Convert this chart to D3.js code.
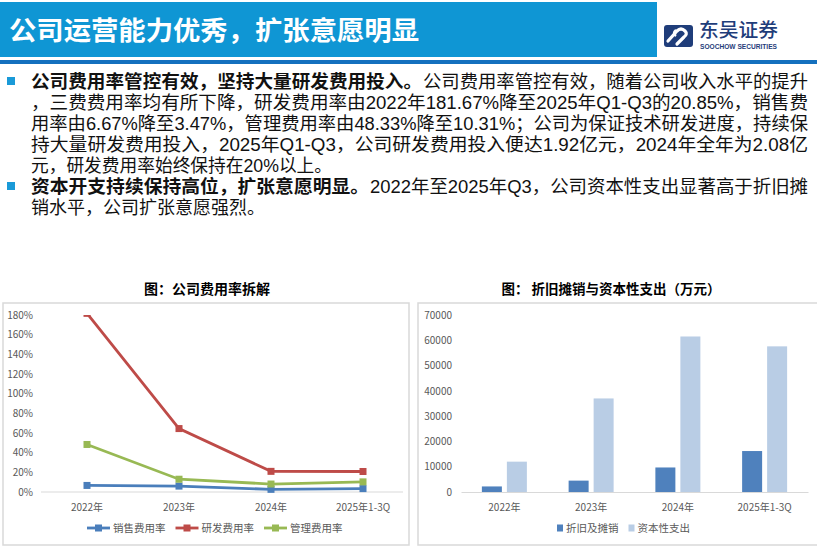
<!DOCTYPE html>
<html>
<head>
<meta charset="utf-8">
<script src="https://d3js.org/d3.v7.min.js"></script>
<style>
  body { margin: 0; background: #fff; }
  svg { display: block; font-family: "Noto Sans CJK SC", "Noto Sans", sans-serif; }
</style>
</head>
<body>
<svg id="main_canvas" width="817" height="552"></svg>
<script>
    const CANVAS_WIDTH = 817;
    const CANVAS_HEIGHT = 552;

    // ---- data ----
    const categories = ["2022年", "2023年", "2024年", "2025年1-3Q"];

    const rateSeries = ["销售费用率", "研发费用率", "管理费用率"];
    const salesRate = [0.0667, 0.060, 0.027, 0.0347];
    const rdRate = [1.8167, 0.645, 0.21, 0.2085];
    const adminRate = [0.4833, 0.13, 0.081, 0.1031];
    const rateTicks = [0, 0.2, 0.4, 0.6, 0.8, 1.0, 1.2, 1.4, 1.6, 1.8];

    const capexSeries = ["折旧及摊销", "资本性支出"];
    const depreciation = [2200, 4500, 9700, 16200];
    const capex = [12000, 37000, 61500, 57600];
    const capexTicks = [0, 10000, 20000, 30000, 40000, 50000, 60000, 70000];

    const pageTitle = "公司运营能力优秀，扩张意愿明显";
    const leftTitle = "图：公司费用率拆解";
    const rightTitle = "图： 折旧摊销与资本性支出（万元）";

    const svg = d3.select("#main_canvas");

    // ---- header ----
    svg.append("rect").attr("x", 0).attr("y", 2).attr("width", 657).attr("height", 55).attr("fill", "#0f96d4");
    svg.append("rect").attr("x", 0).attr("y", 60).attr("width", CANVAS_WIDTH).attr("height", 4).attr("fill", "#1470be");
    svg.append("text")
        .attr("x", 9).attr("y", 40)
        .attr("fill", "#fff")
        .attr("font-size", 26.5).attr("font-weight", "bold")
        .attr("textLength", 410).attr("lengthAdjust", "spacingAndGlyphs")
        .text(pageTitle);

    // logo
    const logo = svg.append("g");
    logo.append("rect").attr("x", 664).attr("y", 25).attr("width", 29).attr("height", 22).attr("rx", 3).attr("fill", "#1f3d7a");
    logo.append("path")
        .attr("d", "M668,41 L677,31 Q681,27 685,31 Q688,34 684,37 L677,44")
        .attr("fill", "none").attr("stroke", "#fff").attr("stroke-width", 3.2).attr("stroke-linecap", "round");
    logo.append("path")
        .attr("d", "M676,36 Q672,33 676,30")
        .attr("fill", "none").attr("stroke", "#fff").attr("stroke-width", 2.4);
    logo.append("text").attr("x", 699).attr("y", 37).attr("fill", "#1f3d7a")
        .attr("font-size", 19).attr("font-weight", 500)
        .attr("textLength", 79).attr("lengthAdjust", "spacingAndGlyphs")
        .text("东吴证券");
    logo.append("text").attr("x", 700).attr("y", 48.5).attr("fill", "#1f3d7a")
        .attr("font-family", "\"Liberation Sans\", sans-serif")
        .attr("font-size", 6.3).attr("font-weight", "bold")
        .attr("textLength", 77).attr("lengthAdjust", "spacingAndGlyphs")
        .text("SOOCHOW SECURITIES");

    // ---- body text ----
    const bodyLines = [
        { bold: "公司费用率管控有效，坚持大量研发费用投入。", text: "公司费用率管控有效，随着公司收入水平的提升", split: 423, len: 385 },
        { text: "，三费费用率均有所下降，研发费用率由2022年181.67%降至2025年Q1-Q3的20.85%，销售费", len: 777 },
        { text: "用率由6.67%降至3.47%，管理费用率由48.33%降至10.31%；公司为保证技术研发进度，持续保", len: 777 },
        { text: "持大量研发费用投入，2025年Q1-Q3，公司研发费用投入便达1.92亿元，2024年全年为2.08亿", len: 777 },
        { text: "元，研发费用率始终保持在20%以上。", len: 301 },
        { bold: "资本开支持续保持高位，扩张意愿明显。", text: "2022年至2025年Q3，公司资本性支出显著高于折旧摊", split: 370, len: 438 },
        { text: "销水平，公司扩张意愿强烈。" }
    ];
    const TEXT_X = 31;
    const body = svg.append("g")
        .attr("font-family", "\"Liberation Sans\", \"Noto Sans CJK SC\", sans-serif")
        .attr("font-size", 18).attr("fill", "#111");
    bodyLines.forEach((ln, i) => {
        const yb = 88 + i * 21;
        if (ln.bold) {
            body.append("rect").attr("x", 7).attr("y", yb - 11).attr("width", 8).attr("height", 8).attr("fill", "#1a9ad8");
            body.append("text").attr("x", TEXT_X).attr("y", yb).attr("font-weight", "bold")
                .attr("textLength", ln.split - 1 - TEXT_X).attr("lengthAdjust", "spacingAndGlyphs")
                .text(ln.bold);
        }
        const t = body.append("text").attr("x", ln.bold ? ln.split : TEXT_X).attr("y", yb).text(ln.text);
        if (ln.len) t.attr("textLength", ln.len).attr("lengthAdjust", "spacingAndGlyphs");
    });

    // ---- panels ----
    const panelStroke = "#d9d9d9";
    svg.append("rect").attr("x", 3).attr("y", 303).attr("width", 406).attr("height", 242)
        .attr("fill", "none").attr("stroke", panelStroke).attr("stroke-width", 1.5);
    svg.append("rect").attr("x", 418).attr("y", 303).attr("width", 402).attr("height", 242)
        .attr("fill", "none").attr("stroke", panelStroke).attr("stroke-width", 1.5);

    svg.append("text").attr("x", 207).attr("y", 294).attr("text-anchor", "middle")
        .attr("font-size", 14).attr("font-weight", "bold").text(leftTitle);
    svg.append("text").attr("x", 611).attr("y", 294).attr("text-anchor", "middle")
        .attr("font-size", 13.5).attr("font-weight", "bold").text(rightTitle);

    const styleAxis = (g, size) => {
        g.selectAll("text").attr("fill", "#595959").attr("font-size", size)
            .attr("font-family", "\"Noto Sans CJK SC\", sans-serif");
    };

    // ---- left chart: expense ratios ----
    const lc = { left: 41, right: 409, top: 315, bottom: 492 };
    const x1 = d3.scaleBand().domain(categories).range([lc.left, lc.right]);
    const y1 = d3.scaleLinear().domain([0, 1.8]).range([lc.bottom, lc.top]);
    const color1 = d3.scaleOrdinal(rateSeries, ["#4a7ebb", "#be4b48", "#98b954"]);
    const rateData = [salesRate, rdRate, adminRate].map((vals, k) => ({
        name: rateSeries[k],
        values: vals.map((v, i) => ({ cat: categories[i], v }))
    }));

    svg.append("g")
        .attr("transform", `translate(${lc.left},0)`)
        .call(d3.axisLeft(y1).tickValues(rateTicks).tickSize(0).tickPadding(8)
            .tickFormat(d => Math.round(d * 100) + "%"))
        .call(g => g.select(".domain").remove())
        .call(g => styleAxis(g, 10));

    svg.append("g")
        .attr("transform", `translate(0,${lc.bottom})`)
        .call(d3.axisBottom(x1).tickSize(0).tickPadding(12))
        .call(g => g.select(".domain").attr("stroke", "#d9d9d9").attr("stroke-width", 1.2)
            .attr("d", `M${lc.left},0H${lc.right - 6}`))
        .call(g => styleAxis(g, 10));

    svg.append("clipPath").attr("id", "plot1")
        .append("rect").attr("x", 0).attr("y", 315).attr("width", 410).attr("height", 200);

    const cx1 = d => x1(d.cat) + x1.bandwidth() / 2;
    const line1 = d3.line().x(cx1).y(d => y1(d.v));
    const series1 = svg.append("g").attr("clip-path", "url(#plot1)")
        .selectAll("g").data(rateData).join("g");
    series1.append("path")
        .attr("d", d => line1(d.values))
        .attr("fill", "none")
        .attr("stroke", d => color1(d.name))
        .attr("stroke-width", 2.8);
    series1.selectAll("rect")
        .data(d => d.values.map(p => ({ ...p, name: d.name })))
        .join("rect")
        .attr("x", d => cx1(d) - 3.5)
        .attr("y", d => y1(d.v) - 3.5)
        .attr("width", 7).attr("height", 7)
        .attr("fill", d => color1(d.name));

    // legend
    let lx = 87;
    const legend1 = svg.append("g").attr("font-size", 10.5).attr("fill", "#595959");
    rateSeries.forEach(name => {
        legend1.append("line").attr("x1", lx).attr("x2", lx + 23).attr("y1", 528).attr("y2", 528)
            .attr("stroke", color1(name)).attr("stroke-width", 2.8);
        legend1.append("rect").attr("x", lx + 8).attr("y", 524.5).attr("width", 7).attr("height", 7)
            .attr("fill", color1(name));
        const t = legend1.append("text").attr("x", lx + 26).attr("y", 532).text(name);
        lx += 26 + t.node().getComputedTextLength() + 10;
    });

    // ---- right chart: depreciation vs capex ----
    const rc = { left: 461, right: 808, top: 315, bottom: 492 };
    const x2 = d3.scaleBand().domain(categories).range([rc.left, rc.right]);
    const xs = d3.scaleBand().domain(capexSeries).range([0, 45]).paddingInner(0.2);
    const y2 = d3.scaleLinear().domain([0, 70000]).range([rc.bottom, rc.top]);
    const color2 = d3.scaleOrdinal(capexSeries, ["#4f81bd", "#b9cde5"]);

    svg.append("g")
        .attr("transform", `translate(${rc.left},0)`)
        .call(d3.axisLeft(y2).tickValues(capexTicks).tickSize(0).tickPadding(9).tickFormat(d3.format("d")))
        .call(g => g.select(".domain").remove())
        .call(g => styleAxis(g, 10));

    const barData = [];
    categories.forEach((c, i) => {
        barData.push({ cat: c, name: capexSeries[0], v: depreciation[i] });
        barData.push({ cat: c, name: capexSeries[1], v: capex[i] });
    });

    svg.append("g").selectAll("rect").data(barData).join("rect")
        .attr("x", d => x2(d.cat) + x2.bandwidth() / 2 - 22.5 + xs(d.name))
        .attr("y", d => y2(d.v))
        .attr("width", xs.bandwidth())
        .attr("height", d => y2(0) - y2(d.v))
        .attr("fill", d => color2(d.name));

    svg.append("g")
        .attr("transform", `translate(0,${rc.bottom})`)
        .call(d3.axisBottom(x2).tickSize(0).tickPadding(12))
        .call(g => g.select(".domain").attr("stroke", "#d9d9d9").attr("stroke-width", 1.2))
        .call(g => styleAxis(g, 10));

    let rx = 557;
    const legend2 = svg.append("g").attr("font-size", 10.5).attr("fill", "#595959");
    capexSeries.forEach(name => {
        legend2.append("rect").attr("x", rx).attr("y", 524.5).attr("width", 6).attr("height", 7)
            .attr("fill", color2(name));
        const t = legend2.append("text").attr("x", rx + 9).attr("y", 532).text(name);
        rx += 9 + t.node().getComputedTextLength() + 10;
    });
</script>
</body>
</html>
